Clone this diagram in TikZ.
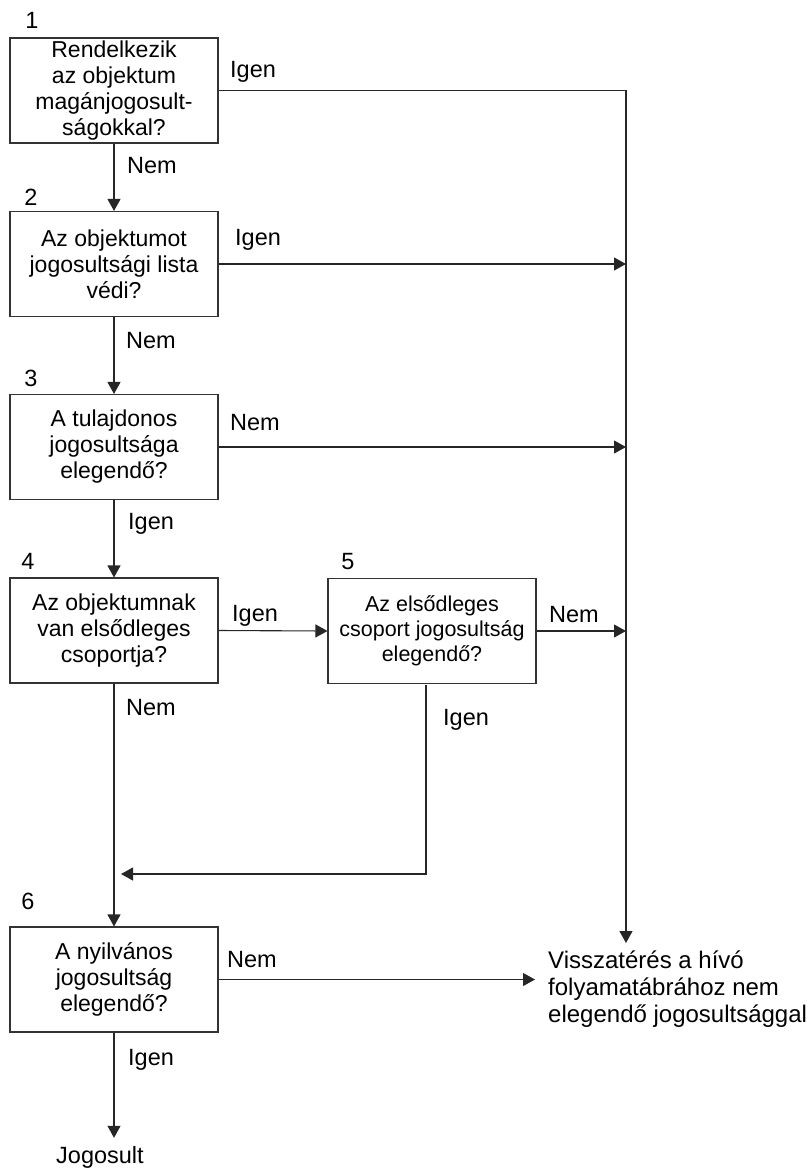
\documentclass[tikz,border=0pt]{standalone}
\usepackage{fontspec}
\setmainfont{Liberation Sans}
\usetikzlibrary{arrows.meta}
\begin{document}
\begin{tikzpicture}[x=1pt,y=-1pt,
  qbox/.style={draw=black!80, line width=1.1pt, minimum width=208pt, minimum height=105pt,
    inner sep=0pt, align=center, font=\fontsize{23}{26}\selectfont},
  num/.style={font=\fontsize{23.5}{25}\selectfont, inner sep=0pt},
  lbl/.style={font=\fontsize{23.5}{26}\selectfont, inner sep=0pt, anchor=base west},
  flow/.style={draw=black!85, line width=1.1pt},
  arr/.style={flow, -{Triangle[length=12pt,width=13pt]}},
]
\useasboundingbox (0,0) rectangle (807,1168);

% decision boxes
\node[qbox] (b1) at (114,90.5) {Rendelkezik\\az objektum\\magánjogosult-\\ságokkal?};
\node[qbox] (b2) at (114,264) {Az objektumot\\jogosultsági lista\\védi?};
\node[qbox] (b3) at (114,447) {A tulajdonos\\jogosultsága\\elegendő?};
\node[qbox] (b4) at (114,630.5) {Az objektumnak\\van elsődleges\\csoportja?};
\node[qbox, font=\fontsize{21.5}{25}\selectfont] (b5) at (432,631) {Az elsődleges\\csoport jogosultság\\elegendő?};
\node[qbox] (b6) at (114,979.5) {A nyilvános\\jogosultság\\elegendő?};

% step numbers
\node[num] (n1) at (32,20) {1};
\node[num] (n2) at (31,197) {2};
\node[num] (n3) at (31,378) {3};
\node[num] (n4) at (28,561) {4};
\node[num] (n5) at (348,562) {5};
\node[num] (n6) at (28,901) {6};

% outcomes
\node[inner sep=0pt, anchor=north west, align=left, font=\fontsize{24}{27}\selectfont] (ret) at (548,951)
  {Visszatérés a hívó\\folyamatábrához nem\\elegendő jogosultsággal};
\node[inner sep=0pt, anchor=base west, font=\fontsize{23.5}{26}\selectfont] (jog) at (56,1163) {Jogosult};

% branch labels
\node[lbl] (l1i) at (230,77) {Igen};
\node[lbl] (l1n) at (127,173) {Nem};
\node[lbl] (l2i) at (235,245) {Igen};
\node[lbl] (l2n) at (126,348) {Nem};
\node[lbl] (l3n) at (230,430) {Nem};
\node[lbl] (l3i) at (128,529) {Igen};
\node[lbl] (l4i) at (232,621) {Igen};
\node[lbl] (l4n) at (126,715) {Nem};
\node[lbl] (l5n) at (549,622) {Nem};
\node[lbl] (l5i) at (443,725) {Igen};
\node[lbl] (l6n) at (227,967) {Nem};
\node[lbl] (l6i) at (128,1065) {Igen};

% connectors
\coordinate (trunk) at (626,943);
\coordinate (b5out) at (426,685);
\coordinate (merge) at (121,874);
\draw[arr] (b1.south) -- (b2.north);
\draw[arr] (b2.south) -- (b3.north);
\draw[arr] (b3.south) -- (b4.north);
\draw[arr] (b4.east) -- (b5.west);
\draw[arr] (b4.south) -- (b6.north);
\draw[arr] (b1.east) -| (trunk);
\draw[arr] (b2.east) -- (b2.east -| trunk);
\draw[arr] (b3.east) -- (b3.east -| trunk);
\draw[arr] (b5.east) -- (b5.east -| trunk);
\draw[arr] (b5out) |- (merge);
\draw[arr, shorten >=13pt] (b6.east) -- (b6.east -| ret.west);
\draw[arr, shorten >=8pt] (b6.south) -- (b6.south |- jog.north);
\end{tikzpicture}
\end{document}
